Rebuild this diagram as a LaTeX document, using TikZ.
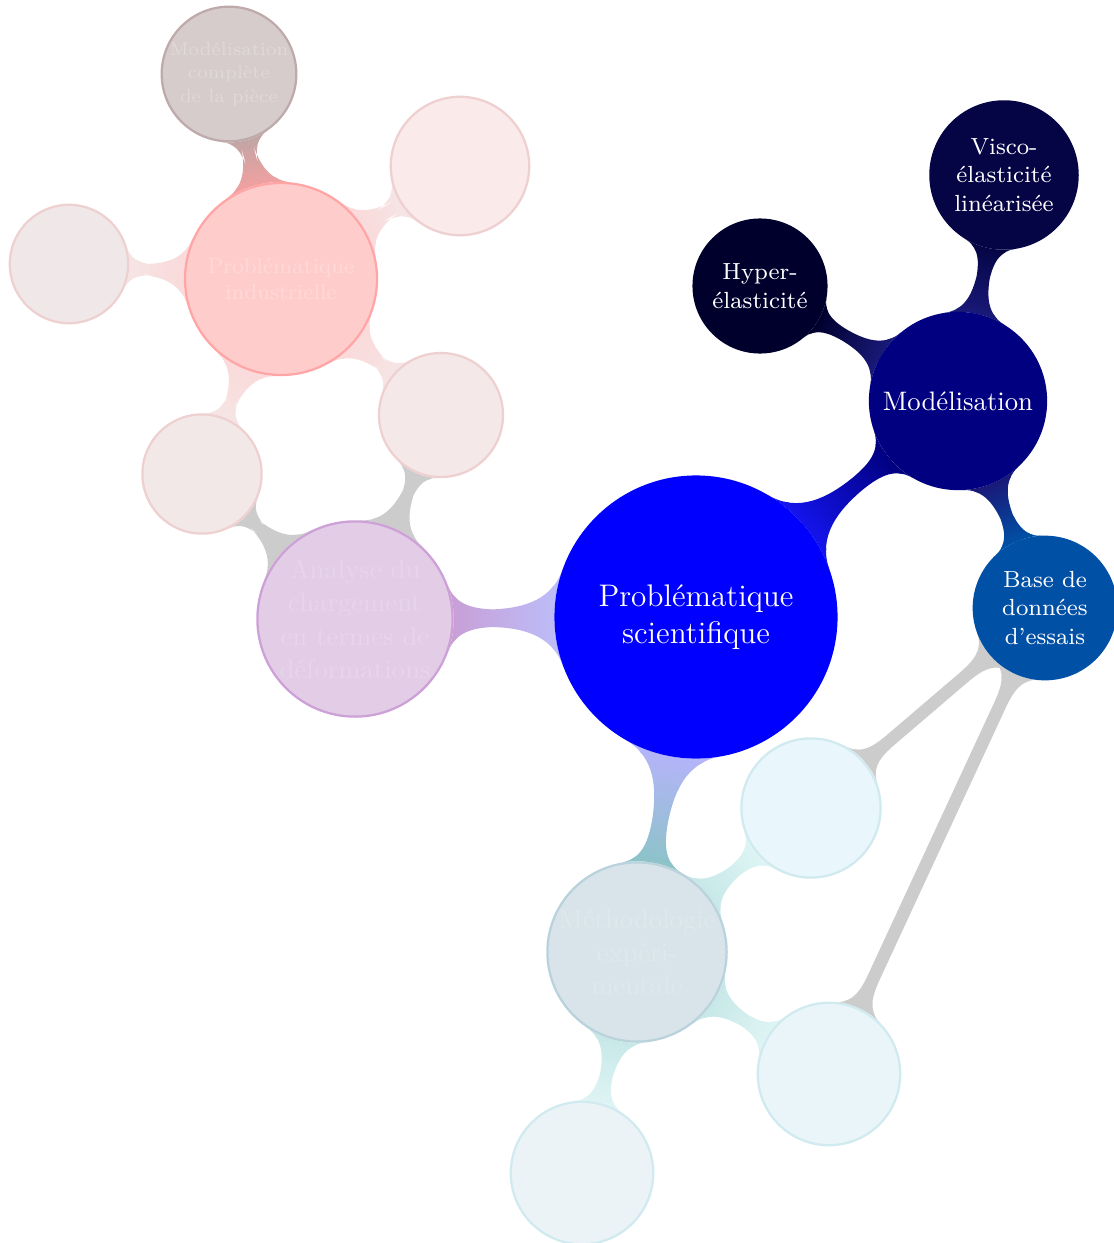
\documentclass[tikz,border=0pt]{standalone}
\usetikzlibrary{mindmap,backgrounds}
\definecolor{cR}{RGB}{0,0,255}
\definecolor{cM}{RGB}{0,0,128}
\definecolor{cH}{RGB}{0,0,45}
\definecolor{cV}{RGB}{5,5,70}
\definecolor{cB}{RGB}{0,80,165}
\definecolor{bRM}{RGB}{20,20,235}
\definecolor{bMx}{RGB}{25,25,120}
\definecolor{cA}{RGB}{226,204,230}
\definecolor{cAd}{RGB}{205,160,215}
\definecolor{cAt}{RGB}{231,213,235}
\definecolor{cE}{RGB}{216,228,234}
\definecolor{cEd}{RGB}{185,210,220}
\definecolor{cEt}{RGB}{222,233,238}
\definecolor{cI}{RGB}{255,204,204}
\definecolor{cId}{RGB}{255,165,165}
\definecolor{cIt}{RGB}{255,216,216}
\definecolor{cC}{RGB}{215,204,204}
\definecolor{cCd}{RGB}{190,170,170}
\definecolor{cCt}{RGB}{225,216,216}
\definecolor{cPa}{RGB}{250,234,234}
\definecolor{cPb}{RGB}{240,232,232}
\definecolor{cPc}{RGB}{244,232,232}
\definecolor{cPd}{RGB}{243,232,232}
\definecolor{cPdr}{RGB}{238,208,208}
\definecolor{cCa}{RGB}{233,246,251}
\definecolor{cCb}{RGB}{233,245,248}
\definecolor{cCc}{RGB}{236,243,247}
\definecolor{cCdr}{RGB}{208,234,240}
\definecolor{gbar}{RGB}{204,204,204}
\definecolor{bRA}{RGB}{188,188,248}
\definecolor{bAR}{RGB}{200,160,215}
\definecolor{bRE}{RGB}{180,180,248}
\definecolor{bER}{RGB}{140,195,200}
\definecolor{bIx}{RGB}{240,160,160}
\definecolor{bCx}{RGB}{195,165,165}
\definecolor{bIp}{RGB}{250,218,218}
\definecolor{bPp}{RGB}{246,228,228}
\definecolor{bEc}{RGB}{200,232,232}
\definecolor{bCc}{RGB}{222,244,244}
\begin{document}
\begin{tikzpicture}[x=0.0125cm,y=-0.0125cm,
  bub/.style={circle,inner sep=0pt,align=center,line width=0.8pt},
  solid/.style={bub,fill=#1,draw=#1,text=white},
  lone/.style={font=\fontsize{9.5}{11.8}\selectfont},
  ltwo/.style={font=\fontsize{8.3}{10.2}\selectfont},
  cbar/.style args={#1/#2}{circle connection bar switch color=from (#1) to (#2)}]
\useasboundingbox (0,0) rectangle (1114,1243);
% main nodes
\node[solid=cR,minimum size=3.51cm,font=\fontsize{11.1}{13.2}\selectfont] (R) at (696,617) {Problématique\\scientifique};
\node[solid=cM,lone,minimum size=2.2cm] (M) at (958,401) {Modélisation};
\node[solid=cH,ltwo,minimum size=1.66cm] (H) at (760,286) {Hyper-\\élasticité};
\node[solid=cV,ltwo,minimum size=1.84cm] (V) at (1004,175) {Visco-\\élasticité\\linéarisée};
\node[solid=cB,ltwo,minimum size=1.78cm] (B) at (1045,608) {Base de\\données\\d’essais};
% faded nodes
\node[bub,lone,fill=cA,draw=cAd,text=cAt,minimum size=2.44cm] (A) at (355,619) {Analyse du\\chargement\\en termes de\\déformations};
\node[bub,lone,fill=cE,draw=cEd,text=cEt,minimum size=2.24cm] (E) at (637,952) {Méthodologie\\expéri-\\mentale};
\node[bub,fill=cI,draw=cId,text=cIt,minimum size=2.4cm,font=\fontsize{7.7}{9.3}\selectfont] (I) at (281,279) {Problématique\\industrielle};
\node[bub,fill=cC,draw=cCd,text=cCt,minimum size=1.63cm,font=\fontsize{6.6}{8.4}\selectfont] (C) at (229,74) {Modélisation\\complète\\de la pièce};
\node[bub,fill=cPa,draw=cPdr,minimum size=1.73cm] (I1) at (460,166) {};
\node[bub,fill=cPb,draw=cPdr,minimum size=1.48cm] (I2) at (69,264) {};
\node[bub,fill=cPc,draw=cPdr,minimum size=1.55cm] (L3) at (441,415) {};
\node[bub,fill=cPd,draw=cPdr,minimum size=1.49cm] (L4) at (202,474) {};
\node[bub,fill=cCa,draw=cCdr,minimum size=1.74cm] (E1) at (811,808) {};
\node[bub,fill=cCb,draw=cCdr,minimum size=1.78cm] (E2) at (829,1074) {};
\node[bub,fill=cCc,draw=cCdr,minimum size=1.78cm] (E3) at (582,1173) {};
\begin{scope}[on background layer]
\path (R) to[cbar=bRM/cM] (M);
\path (M) to[cbar=bMx/cH] (H);
\path (M) to[cbar=bMx/cV] (V);
\path (M) to[cbar=bMx/cB] (B);
\path (R) to[cbar=bRA/bAR] (A);
\path (R) to[cbar=bRE/bER] (E);
\path (B) to[cbar=gbar/gbar] (E1);
\path (B) to[cbar=gbar/gbar] (E2);
\path (A) to[cbar=gbar/gbar] (L3);
\path (A) to[cbar=gbar/gbar] (L4);
\path (I) to[cbar=bIx/bCx] (C);
\path (I) to[cbar=bIp/bPp] (I1);
\path (I) to[cbar=bIp/bPp] (I2);
\path (I) to[cbar=bIp/bPp] (L3);
\path (I) to[cbar=bIp/bPp] (L4);
\path (E) to[cbar=bEc/bCc] (E1);
\path (E) to[cbar=bEc/bCc] (E2);
\path (E) to[cbar=bEc/bCc] (E3);
\end{scope}
\end{tikzpicture}
\end{document}
